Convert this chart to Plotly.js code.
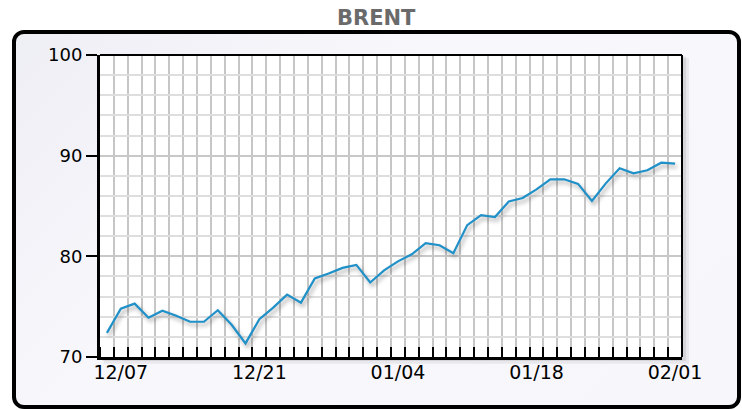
<!DOCTYPE html>
<html>
<head>
<meta charset="utf-8">
<script src="https://cdn.plot.ly/plotly-3.0.1.min.js"></script>
<style>
  html, body { margin: 0; padding: 0; background: #ffffff; }
  #wrap { position: relative; width: 742px; height: 410px; }
  #frame {
    position: absolute; left: 12px; top: 30px; width: 721px; height: 371px;
    border: 4px solid #000; border-radius: 12px;
    background: linear-gradient(135deg, #eeeef5 0%, #f8f8fc 40%, #f6f6fb 100%);
  }
  #chart { position: absolute; left: 0; top: 0; width: 742px; height: 410px; }
  #chart .scatterlayer .trace path.js-line {
    filter: drop-shadow(2px 3px 2px rgba(0,0,0,0.35));
  }
</style>
</head>
<body>
<div id="wrap">
  <div id="frame"></div>
  <div id="chart"></div>
</div>
<script>
// Trading days (Dec 6 2021 – Feb 1 2022)
const dates = [
  "12/06","12/07","12/08","12/09","12/10",
  "12/13","12/14","12/15","12/16","12/17",
  "12/20","12/21","12/22","12/23","12/24",
  "12/27","12/28","12/29","12/30","12/31",
  "01/03","01/04","01/05","01/06","01/07",
  "01/10","01/11","01/12","01/13","01/14",
  "01/17","01/18","01/19","01/20","01/21",
  "01/24","01/25","01/26","01/27","01/28",
  "01/31","02/01"
];
const brent = [
  72.4, 74.8, 75.3, 73.9, 74.6,
  74.1, 73.5, 73.5, 74.65, 73.2,
  71.35, 73.75, 74.9, 76.2, 75.4,
  77.8, 78.3, 78.85, 79.15, 77.4,
  78.6, 79.5, 80.2, 81.3, 81.1,
  80.3, 83.1, 84.1, 83.9, 85.45,
  85.8, 86.65, 87.65, 87.65, 87.2,
  85.5, 87.25, 88.75, 88.25, 88.55,
  89.3, 89.2
];
const tickLabels = ["12/07","12/21","01/04","01/18","02/01"];
const yTicks = [70, 80, 90, 100];

const xIdx = dates.map((d, i) => i);
const tickIdx = tickLabels.map(l => dates.indexOf(l));

const trace = {
  x: xIdx, y: brent, type: 'scatter', mode: 'lines',
  line: { color: '#1f90c8', width: 2.2 },
  hoverinfo: 'skip'
};

const layout = {
  width: 742, height: 410,
  margin: { l: 100, r: 60, t: 55, b: 53 },
  paper_bgcolor: 'rgba(0,0,0,0)',
  plot_bgcolor: 'rgba(0,0,0,0)',
  showlegend: false,
  title: {
    text: '<b>BRENT</b>',
    font: { family: 'DejaVu Sans', size: 21, color: '#6a6a6a' },
    x: 0.507, xanchor: 'center', y: 0.958, yanchor: 'middle'
  },
  xaxis: {
    range: [-0.5, dates.length - 0.5],
    tickmode: 'array', tickvals: tickIdx, ticktext: tickLabels,
    ticks: '', showgrid: false, zeroline: false,
    showline: true, linecolor: '#000', linewidth: 3, mirror: false,
    ticklabelstandoff: -4,
    tickfont: { family: 'DejaVu Sans', size: 19, color: '#000' },
    minor: {
      tickmode: 'linear', tick0: -0.5, dtick: 1,
      ticks: 'inside', ticklen: 10, tickwidth: 2, tickcolor: '#000',
      showgrid: true, gridcolor: '#c6c6c6', gridwidth: 2
    },
    fixedrange: true
  },
  yaxis: {
    range: [70, 100],
    tickmode: 'array', tickvals: yTicks,
    ticks: 'outside', ticklen: 11, tickwidth: 2, tickcolor: '#000',
    showgrid: true, gridcolor: '#c8c8c8', gridwidth: 2, zeroline: false,
    showline: true, linecolor: '#000', linewidth: 3,
    tickfont: { family: 'DejaVu Sans', size: 18, color: '#000' },
    minor: {
      tickmode: 'linear', tick0: 70, dtick: 2,
      showgrid: true, gridcolor: '#dedede', gridwidth: 2, ticks: ''
    },
    fixedrange: true
  },
  shapes: [
    // soft shadow behind plot area
    { type: 'rect', xref: 'paper', yref: 'paper', x0: 0.006, x1: 1.012, y0: -0.022, y1: 0.99,
      fillcolor: 'rgba(0,0,0,0.06)', line: { width: 0 }, layer: 'below' },
    { type: 'rect', xref: 'paper', yref: 'paper', x0: 0.004, x1: 1.007, y0: -0.013, y1: 0.995,
      fillcolor: 'rgba(0,0,0,0.08)', line: { width: 0 }, layer: 'below' },
    // white plot background
    { type: 'rect', xref: 'paper', yref: 'paper', x0: 0, x1: 1, y0: 0, y1: 1,
      fillcolor: '#ffffff', line: { width: 0 }, layer: 'below' },
    // top and right border
    { type: 'line', xref: 'paper', yref: 'paper', x0: 0, x1: 1, y0: 1, y1: 1,
      line: { color: '#000', width: 2 } },
    { type: 'line', xref: 'paper', yref: 'paper', x0: 1, x1: 1, y0: 0, y1: 1,
      line: { color: '#000', width: 2 } }
  ]
};

Plotly.newPlot('chart', [trace], layout, { staticPlot: true, displayModeBar: false });
</script>
</body>
</html>
